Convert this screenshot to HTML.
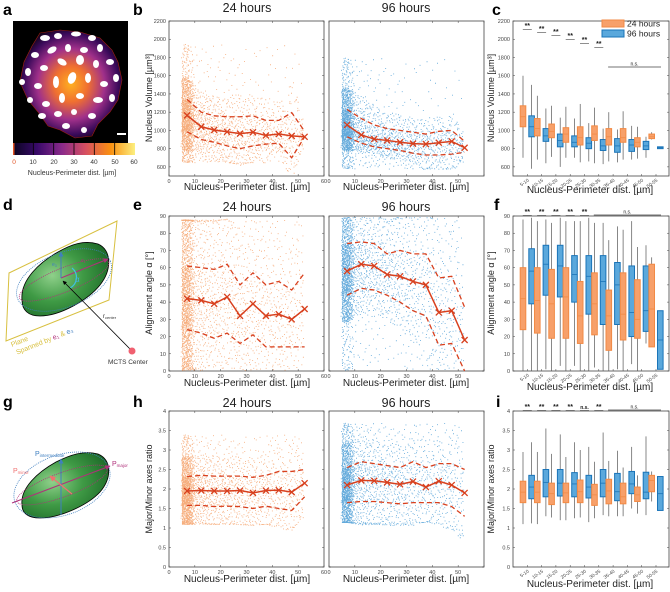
<!DOCTYPE html>
<html><head><meta charset="utf-8"><style>
html,body{margin:0;padding:0;background:#fff}
svg{display:block;font-family:"Liberation Sans",sans-serif}
</style></head><body>
<svg id="fig" width="670" height="592" viewBox="0 0 670 592" xmlns="http://www.w3.org/2000/svg">
<defs>
<radialGradient id="heat" cx="0.5" cy="0.5" r="0.55">
<stop offset="0" stop-color="#ffb020"/><stop offset="0.3" stop-color="#f07030"/><stop offset="0.6" stop-color="#a0308a"/><stop offset="0.85" stop-color="#3a0a5a"/><stop offset="1" stop-color="#120318"/>
</radialGradient>
<radialGradient id="green" cx="0.35" cy="0.45" r="0.7">
<stop offset="0" stop-color="#8fd08a"/><stop offset="0.5" stop-color="#3f9a45"/><stop offset="1" stop-color="#1d6a28"/>
</radialGradient>
<linearGradient id="cbar" x1="0" x2="1">
<stop offset="0" stop-color="#0a0520"/><stop offset="0.2" stop-color="#3a0a6a"/><stop offset="0.4" stop-color="#8a2a8a"/><stop offset="0.6" stop-color="#d85060"/><stop offset="0.8" stop-color="#fa9010"/><stop offset="1" stop-color="#fcf080"/>
</linearGradient>
<marker id="ahk" viewBox="0 0 10 10" refX="9" refY="5" markerWidth="5" markerHeight="5" orient="auto"><path d="M0,0L10,5L0,10z" fill="#000"/></marker>
<marker id="ahm" viewBox="0 0 10 10" refX="9" refY="5" markerWidth="5" markerHeight="5" orient="auto"><path d="M0,0L10,5L0,10z" fill="#b0307a"/></marker>
<marker id="ahb" viewBox="0 0 10 10" refX="9" refY="5" markerWidth="5" markerHeight="5" orient="auto"><path d="M0,0L10,5L0,10z" fill="#3f7fc0"/></marker>
<marker id="ahr" viewBox="0 0 10 10" refX="9" refY="5" markerWidth="5" markerHeight="5" orient="auto"><path d="M0,0L10,5L0,10z" fill="#f07070"/></marker>
</defs>

<g font-weight="bold" font-size="16" fill="#000">
<text x="3" y="15">a</text><text x="133" y="15">b</text><text x="492" y="15">c</text>
<text x="3" y="210">d</text><text x="133" y="210">e</text><text x="494" y="210">f</text>
<text x="3" y="407">g</text><text x="133" y="407">h</text><text x="496" y="407">i</text>
</g>

<g>
<rect x="13" y="21" width="115" height="122" fill="#000"/>
<path d="M40,33 L60,30 L80,32 L100,38 L112,50 L118,62 L122,80 L118,100 L110,112 L98,124 L92,136 L75,138 L60,130 L48,126 L38,112 L28,100 L20,82 L24,62 L32,46 Z" fill="url(#heat)" stroke="#a02010" stroke-width="0.6"/>
<g fill="#fff">
<ellipse cx="45" cy="38" rx="5" ry="3"/><ellipse cx="58" cy="36" rx="4" ry="3"/><ellipse cx="76" cy="34" rx="5" ry="2.5"/><ellipse cx="92" cy="38" rx="4" ry="3"/><ellipse cx="100" cy="48" rx="3" ry="4"/>
<ellipse cx="35" cy="55" rx="4" ry="3"/><ellipse cx="52" cy="50" rx="5" ry="3" transform="rotate(-30 52 50)"/><ellipse cx="68" cy="48" rx="3" ry="4"/><ellipse cx="84" cy="50" rx="4" ry="3"/><ellipse cx="110" cy="62" rx="4" ry="3"/>
<ellipse cx="28" cy="72" rx="3" ry="4"/><ellipse cx="44" cy="68" rx="4" ry="3"/><ellipse cx="62" cy="62" rx="5" ry="3" transform="rotate(30 62 62)"/><ellipse cx="80" cy="60" rx="4" ry="5"/><ellipse cx="96" cy="64" rx="3" ry="4"/><ellipse cx="116" cy="78" rx="3" ry="4"/>
<ellipse cx="22" cy="82" rx="3" ry="3"/><ellipse cx="38" cy="86" rx="4" ry="3"/><ellipse cx="56" cy="82" rx="3" ry="6"/><ellipse cx="72" cy="78" rx="4" ry="6" transform="rotate(20 72 78)"/><ellipse cx="88" cy="78" rx="3" ry="5"/><ellipse cx="104" cy="84" rx="4" ry="3"/>
<ellipse cx="30" cy="100" rx="3" ry="3"/><ellipse cx="46" cy="104" rx="4" ry="3"/><ellipse cx="62" cy="98" rx="3" ry="5"/><ellipse cx="80" cy="96" rx="4" ry="3"/><ellipse cx="98" cy="100" rx="5" ry="3"/><ellipse cx="112" cy="98" rx="3" ry="4"/>
<ellipse cx="42" cy="116" rx="4" ry="3"/><ellipse cx="58" cy="114" rx="4" ry="3"/><ellipse cx="74" cy="112" rx="3" ry="3"/><ellipse cx="92" cy="116" rx="4" ry="3"/><ellipse cx="66" cy="126" rx="4" ry="3"/><ellipse cx="84" cy="130" rx="3" ry="3"/>
<rect x="117" y="133" width="9" height="2"/>
</g>
</g>
<g>
<rect x="13" y="143" width="122" height="12" fill="url(#cbar)"/>
<g stroke="#000" stroke-width="0.8"><line x1="33.3" y1="143" x2="33.3" y2="155"/><line x1="53.7" y1="143" x2="53.7" y2="155"/><line x1="74" y1="143" x2="74" y2="155"/><line x1="94.3" y1="143" x2="94.3" y2="155"/><line x1="114.7" y1="143" x2="114.7" y2="155"/></g>
<rect x="13" y="143" width="1.5" height="12" fill="#e05020"/>
<g font-size="6.5" fill="#333" text-anchor="middle"><text x="14" y="164" fill="#e05020">0</text><text x="33" y="164">10</text><text x="54" y="164">20</text><text x="74" y="164">30</text><text x="94" y="164">40</text><text x="115" y="164">50</text><text x="134" y="164">60</text></g>
<text x="72" y="175" font-size="7" fill="#333" text-anchor="middle">Nucleus-Perimeter dist. [µm]</text>
</g>

<g>
<path d="M9,273 L117,221 L109,300 L6,341 Z" fill="none" stroke="#d8c040" stroke-width="1"/>
<path d="M22,300 C20,280 40,262 58,252 C72,244 84,240 98,244 C112,250 112,270 100,285 C88,300 60,316 40,316 C28,316 22,310 22,300 Z" fill="url(#green)" stroke="#000" stroke-width="0.8"/>
<ellipse cx="64" cy="280" rx="50" ry="27" transform="rotate(-22 64 280)" fill="none" stroke="#3f7fc0" stroke-width="0.8" stroke-dasharray="1,1"/>
<ellipse cx="64" cy="280" rx="48" ry="12" transform="rotate(-22 64 280)" fill="none" stroke="#b0307a" stroke-width="0.8" stroke-dasharray="1,1"/>
<line x1="61" y1="278" x2="108" y2="259" stroke="#b0307a" stroke-width="1" marker-end="url(#ahm)"/>
<line x1="61" y1="278" x2="61" y2="252" stroke="#3f7fc0" stroke-width="1" marker-end="url(#ahb)"/>
<path d="M72,268 A12,12 0 0 1 70,288" fill="none" stroke="#40c0e0" stroke-width="1.2"/>
<text x="75" y="282" font-size="8" fill="#40b0e0">α</text>
<line x1="131" y1="350" x2="63" y2="281" stroke="#000" stroke-width="0.8" marker-end="url(#ahk)"/>
<circle cx="132" cy="351" r="3.5" fill="#f06070"/>
<text x="103" y="318" font-size="6" fill="#333">r<tspan font-size="4" dy="1">center</tspan></text>
<text x="108" y="364" font-size="6.5" fill="#333">MCTS Center</text>
<text x="81" y="262" font-size="5" fill="#b0307a">e<tspan font-size="3.5" dy="1">1</tspan></text>
<text x="52" y="266" font-size="5" fill="#3f7fc0">e<tspan font-size="3.5" dy="1">3</tspan></text>
<g transform="rotate(-22 12 347)" font-size="7" fill="#d8c040"><text x="12" y="347">Plane</text><text x="14" y="356">Spanned by <tspan fill="#b0307a">e₁</tspan> &amp; <tspan fill="#3f7fc0">e₃</tspan></text></g>
</g>

<g>
<path d="M22,505 C20,488 38,472 56,462 C70,455 84,450 98,454 C112,460 112,478 100,492 C88,505 60,518 40,518 C28,518 22,513 22,505 Z" fill="url(#green)" stroke="#000" stroke-width="0.8"/>
<ellipse cx="62" cy="485" rx="50" ry="30" transform="rotate(-20 62 485)" fill="none" stroke="#3f7fc0" stroke-width="0.8" stroke-dasharray="1,1"/>
<ellipse cx="62" cy="485" rx="48" ry="12" transform="rotate(-20 62 485)" fill="none" stroke="#b0307a" stroke-width="0.8" stroke-dasharray="1,1"/>
<line x1="12" y1="503" x2="110" y2="466" stroke="#b0307a" stroke-width="1" marker-end="url(#ahm)"/>
<line x1="61" y1="515" x2="61" y2="459" stroke="#3f7fc0" stroke-width="1" marker-end="url(#ahb)"/>
<line x1="72" y1="494" x2="50" y2="476" stroke="#f07070" stroke-width="1.2" marker-end="url(#ahr)"/>
<text x="35" y="456" font-size="7" fill="#3f7fc0">P<tspan font-size="4.5" dy="1">intermediate</tspan></text>
<text x="112" y="466" font-size="7" fill="#b0307a">P<tspan font-size="4.5" dy="1">major</tspan></text>
<text x="13" y="473" font-size="7" fill="#f07070">P<tspan font-size="4.5" dy="1">minor</tspan></text>
</g>

<g id="charts"></g>
</svg>
<script>
// ---------- data ----------
const binX = [7,12.5,17.5,22.5,27.5,32.5,37.5,42.5,47.5,52.5];
const cats = ["5-10","10-15","15-20","20-25","25-30","30-35","35-40","40-45","45-50","50-55"];
const vol24Med = [1165,1040,1005,985,965,980,945,960,940,930];
const vol24Up  = [1340,1200,1160,1150,1150,1160,1110,1110,1195,990];
const vol24Lo  = [985,900,870,830,800,830,850,860,700,930];
const vol96Med = [1060,950,905,890,870,855,850,865,880,810];
const vol96Up  = [1230,1130,1060,1020,1000,980,960,990,1000,880];
const vol96Lo  = [930,860,820,800,780,750,730,730,740,760];
const ang24Med = [42,41,39,43,32,39,32,33,30,36];
const ang24Up  = [61,60,59,62,50,57,50,52,47,57];
const ang24Lo  = [24,22,19,22,16,21,14,14,14,14];
const ang96Med = [58,62,61,56,55,52,50,34,35,18];
const ang96Up  = [74,75,74,68,70,68,68,54,55,37];
const ang96Lo  = [44,48,47,44,40,35,32,15,16,0];
const rat24Med = [1.95,1.96,1.95,1.95,1.96,1.9,1.96,1.97,1.92,2.15];
const rat24Up  = [2.32,2.35,2.33,2.33,2.33,2.3,2.35,2.45,2.45,2.5];
const rat24Lo  = [1.58,1.58,1.55,1.56,1.55,1.5,1.56,1.5,1.45,1.8];
const rat96Med = [2.1,2.22,2.21,2.17,2.12,2.19,2.05,2.2,2.1,1.9];
const rat96Up  = [2.55,2.7,2.65,2.6,2.55,2.7,2.55,2.65,2.65,2.5];
const rat96Lo  = [1.65,1.68,1.68,1.65,1.62,1.65,1.65,1.65,1.55,1.3];
const boxVol24 = [[700,1040,1150,1270,1600],[680,940,1020,1130,1380],[710,920,990,1070,1270],[700,870,960,1030,1260],[650,840,920,1040,1290],[640,890,960,1050,1250],[660,840,930,1020,1200],[680,870,920,1020,1210],[690,820,870,920,1040],[900,910,930,960,980]];
const boxVol96 = [[580,930,1040,1160,1500],[640,880,940,1020,1240],[600,820,890,960,1140],[700,820,870,940,1130],[660,800,860,920,1080],[630,780,830,900,1020],[650,760,830,910,1010],[680,770,840,900,1050],[700,790,830,880,930],[800,800,810,820,820]];
const boxAng24 = [[0,24,42,60,88],[0,22,41,60,87],[0,19,39,59,86],[0,19,43,60,87],[0,16,32,52,87],[2,21,39,57,86],[0,12,32,47,76],[0,18,33,57,82],[0,19,30,53,72],[14,14,36,62,66]];
const boxAng96 = [[0,39,58,71,89],[1,44,62,73,88],[3,43,61,73,89],[3,40,56,67,87],[0,33,55,67,89],[0,27,52,67,86],[1,27,50,63,84],[4,20,34,61,87],[16,23,35,61,73],[1,1,18,35,35]];
const boxRat24 = [[1.1,1.65,1.92,2.2,2.95],[1.1,1.65,1.92,2.2,2.95],[1.27,1.6,1.88,2.15,2.9],[1.2,1.65,1.9,2.15,2.82],[1.27,1.65,1.93,2.23,3.0],[1.25,1.58,1.85,2.12,2.7],[1.3,1.62,1.95,2.25,2.72],[1.3,1.62,1.8,2.15,2.55],[1.37,1.68,1.85,2.05,2.35],[1.68,1.93,2.22,2.35,2.45]];
const boxRat96 = [[1.12,1.75,2.05,2.35,3.2],[1.3,1.8,2.17,2.5,3.55],[1.2,1.82,2.15,2.5,3.4],[1.25,1.8,2.13,2.42,3.2],[1.15,1.77,2.05,2.35,3.08],[1.33,1.8,2.15,2.5,3.45],[1.3,1.7,1.93,2.4,2.98],[1.5,1.88,2.13,2.45,3.08],[1.33,1.75,1.92,2.43,3.35],[1.45,1.45,1.88,2.32,2.32]];
const sigVol = ["**","**","**","**","**","**"];
const sigAng = ["**","**","**","**","**"];
const sigRat = ["**","**","**","**","n.s.","**"];
const xTicks = [0,10,20,30,40,50,60];
const volTicks = [600,800,1000,1200,1400,1600,1800,2000,2200];
const angTicks = [0,10,20,30,40,50,60,70,80,90];
const ratTicks = [0,0.5,1,1.5,2,2.5,3,3.5,4];

// ---------- helpers ----------
const NS = "http://www.w3.org/2000/svg";
const root = document.getElementById("charts");
function mk(tag, attrs, parent){const e=document.createElementNS(NS,tag);for(const k in attrs)e.setAttribute(k,attrs[k]);(parent||root).appendChild(e);return e;}
function scale(d0,d1,r0,r1){return v=>r0+(v-d0)/(d1-d0)*(r1-r0);}
function interp(xs,ys,x){if(x<=xs[0])return ys[0];for(let i=1;i<xs.length;i++){if(x<=xs[i]){const t=(x-xs[i-1])/(xs[i]-xs[i-1]);return ys[i-1]+t*(ys[i]-ys[i-1]);}}return ys[ys.length-1];}
function halton(i,b){let f=1,r=0;while(i>0){f/=b;r+=f*(i%b);i=Math.floor(i/b);}return r;}
const ORANGE="#f28a45", BLUE="#2186cc", RED="#d8401e";

function axes(name,x0,y0,x1,y1,ydom,yt,xs,xt,showXLabels){
  const g=mk("g",{});
  
  
  const sy=scale(ydom[0],ydom[1],y1,y0);
  mk("rect",{x:x0,y:y0,width:x1-x0,height:y1-y0,fill:"#fff",stroke:"#444","stroke-width":0.8},g);
  yt.forEach(v=>{const y=sy(v);mk("line",{x1:x0,y1:y,x2:x0+2,y2:y,stroke:"#444","stroke-width":0.5},g);mk("line",{x1:x1,y1:y,x2:x1-2,y2:y,stroke:"#444","stroke-width":0.5},g);
    const t=mk("text",{x:x0-3,y:y+2,"font-size":5.5,"text-anchor":"end",fill:"#444"},g);t.textContent=v;});
  if(xs){xt.forEach(v=>{const x=xs(v);if(x>x1+0.5)return;mk("line",{x1:x,y1:y1,x2:x,y2:y1-2,stroke:"#444","stroke-width":0.5},g);mk("line",{x1:x,y1:y0,x2:x,y2:y0+2,stroke:"#444","stroke-width":0.5},g);
    if(showXLabels&&x<x1-3||showXLabels==="all"){const t=mk("text",{x:x,y:y1+7,"font-size":5.5,"text-anchor":"middle",fill:"#444"},g);t.textContent=v;}});}
  return {g,sy};
}
function label(txt,x,y,size,rot,name){
  const t=mk("text",{x:x,y:y,"font-size":size,"text-anchor":"middle",fill:"#222"});
  if(rot)t.setAttribute("transform",`rotate(${rot} ${x} ${y})`);
  
  
  t.textContent=txt;return t;
}

function scatterPanel(name,x0,y0,x1,y1,ydom,yt,med,up,lo,color,ext,n,labels){
  const xs=scale(0,60,x0,x1);
  const A=axes(name,x0,y0,x1,y1,ydom,yt,xs,xTicks,labels);
  const sy=A.sy;
  let d="";
  for(let i=1;i<=n;i++){
    const u1=halton(i,2),u2=halton(i,3),u3=halton(i,5),u4=halton(i,7);
    let x;
    if(u3<0.33){ x = 4.3 + 5.5*((u1+u4)/2); }
    else { x = 5 + 47*Math.pow(u1,1.9); }
    const m=interp(binX,med,x),U=interp(binX,up,x),L=interp(binX,lo,x);
    const qx=[0,0.06,0.25,0.5,0.75,0.94,1];
    const qy=[ext[0],L-(m-L)*1.1,L,m,U,U+(U-m)*1.4,ext[1]];
    let y=qy[0];
    for(let k=1;k<qx.length;k++){if(u2<=qx[k]){y=qy[k-1]+(u2-qx[k-1])/(qx[k]-qx[k-1])*(qy[k]-qy[k-1]);break;}}
    y=Math.max(ydom[0],Math.min(ydom[1],y));
    const px=xs(x),py=sy(y);
    if(px>x1-1||py<y0+1||py>y1-1)continue;
    d+=`M${px.toFixed(1)} ${py.toFixed(1)}h0.9v0.9h-0.9z`;
  }
  const p=mk("path",{d:d,fill:color,opacity:0.7});
  
  
  [up,lo].forEach((arr,j)=>{
    const l=mk("polyline",{points:binX.map((x,i)=>xs(x)+","+sy(arr[i])).join(" "),fill:"none",stroke:RED,"stroke-width":1.3,"stroke-dasharray":"5,3"});
    
    
  });
  const ml=mk("polyline",{points:binX.map((x,i)=>xs(x)+","+sy(med[i])).join(" "),fill:"none",stroke:RED,"stroke-width":1.5});
  
  
  binX.forEach((x,i)=>{
    const cx=xs(x),cy=sy(med[i]);
    const mkr=mk("path",{d:`M${cx-3} ${cy-3}L${cx+3} ${cy+3}M${cx-3} ${cy+3}L${cx+3} ${cy-3}`,stroke:RED,"stroke-width":1.3});
    
    
  });
}

function boxPanel(name,x0,y0,x1,y1,ydom,yt,b24,b96,sig,sigY,nsStart,nsY,nsCat){
  const A=axes(name,x0,y0,x1,y1,ydom,yt,null,null,false);
  const sy=A.sy;
  const cx=i=>x0+14.3+14.3*i;
  cats.forEach((c,i)=>{
    const x=cx(i);
    mk("line",{x1:x,y1:y1,x2:x,y2:y1-2,stroke:"#444","stroke-width":0.5});
    const t=mk("text",{x:x+2,y:y1+5,"font-size":4.8,"text-anchor":"end",fill:"#444",transform:`rotate(-35 ${x+2} ${y1+5})`});
    
    
    t.textContent=c;
    [[b24[i],-4.3,"#f7a06a",ORANGE],[b96[i],4.3,"#5aa8dc","#1a74b8"]].forEach(([b,off,fill,edge])=>{
      const bx=x+off,w=5.6;
      const wl=mk("line",{x1:bx,y1:sy(b[0]),x2:bx,y2:sy(b[4]),stroke:"#555","stroke-width":0.7});
      
      
      const r=mk("rect",{x:bx-w/2,y:sy(b[3]),width:w,height:Math.max(0.8,sy(b[1])-sy(b[3])),fill:fill,stroke:edge,"stroke-width":1});
      
      
      const m=mk("line",{x1:bx-w/2,y1:sy(b[2]),x2:bx+w/2,y2:sy(b[2]),stroke:edge,"stroke-width":0.8});
      
      
    });
  });
  sig.forEach((s,i)=>{
    const x=cx(i),y=sigY[i];
    const t=mk("text",{x:x,y:y,"font-size":s==="**"?7:5,"text-anchor":"middle",fill:"#222","font-weight":"bold"});
    
    
    t.textContent=s;
    mk("line",{x1:x-4.5,y1:y+1.5,x2:x+4.5,y2:y+1.5,stroke:"#444","stroke-width":0.6});
  });
  const xa=cx(nsStart)-5,xb=cx(nsCat)+5;
  mk("line",{x1:xa,y1:nsY,x2:xb,y2:nsY,stroke:"#444","stroke-width":0.7});
  const t=mk("text",{x:(xa+xb)/2,y:nsY-1.5,"font-size":5,"text-anchor":"middle",fill:"#222"});
  
  
  t.textContent="n.s.";
}

scatterPanel("volume-24h",169,21,324,176,[500,2200],volTicks,vol24Med,vol24Up,vol24Lo,ORANGE,[650,1950],2400,"all");
scatterPanel("volume-96h",329,21,484,176,[500,2200],volTicks.map(()=>""),vol96Med,vol96Up,vol96Lo,BLUE,[580,1800],2400,true);
boxPanel("volume-box",513,21,669,176,[500,2200],volTicks,boxVol24,boxVol96,sigVol,[28,31,34,38,42,46],6,67,9);
scatterPanel("angle-24h",169,216,324,371,[0,90],angTicks,ang24Med,ang24Up,ang24Lo,ORANGE,[0,88],2600,"all");
scatterPanel("angle-96h",329,216,484,371,[0,90],angTicks.map(()=>""),ang96Med,ang96Up,ang96Lo,BLUE,[0,89],2600,true);
boxPanel("angle-box",513,216,669,371,[0,90],angTicks,boxAng24,boxAng96,sigAng,[214,214,214,214,214],5,215,9);
scatterPanel("ratio-24h",169,411,324,567,[0,4],ratTicks,rat24Med,rat24Up,rat24Lo,ORANGE,[1.1,3.4],2400,"all");
scatterPanel("ratio-96h",329,411,484,567,[0,4],ratTicks.map(()=>""),rat96Med,rat96Up,rat96Lo,BLUE,[1.15,3.7],2400,true);
boxPanel("ratio-box",513,411,669,567,[0,4],ratTicks,boxRat24,boxRat96,sigRat,[409,409,409,409,409,409],6,410,9);

[[12],[211],[407]].forEach(([y])=>{label("24 hours",247,y,12.5,0,"title-24h");label("96 hours",406,y,12.5,0,"title-96h");});
[[190],[386],[582]].forEach(([y])=>{label("Nucleus-Perimeter dist. [µm]",247,y,10,0,"x-axis-title");label("Nucleus-Perimeter dist. [µm]",406,y,10,0,"x-axis-title");});
label("Nucleus-Perimeter dist. [µm]",590,193,10,0,"x-axis-title");
label("Nucleus-Perimeter dist. [µm]",590,390,10,0,"x-axis-title");
label("Nucleus-Perimeter dist. [µm]",590,587,10,0,"x-axis-title");
label("Nucleus Volume [µm³]",152,98,9,-90,"y-axis-title");
label("Nucleus Volume [µm³]",494,98,9,-90,"y-axis-title");
label("Alignment angle α [°]",152,293,9,-90,"y-axis-title");
label("Alignment angle α [°]",494,293,9,-90,"y-axis-title");
label("Major/Minor axes ratio",152,489,9,-90,"y-axis-title");
label("Major/Minor axes ratio",494,489,9,-90,"y-axis-title");

const lg=mk("g",{});


mk("rect",{x:602,y:20,width:22,height:7,fill:"#f7a06a",stroke:ORANGE,"stroke-width":1},lg);
mk("rect",{x:602,y:30,width:22,height:7,fill:"#5aa8dc",stroke:"#1a74b8","stroke-width":1},lg);
const l1=mk("text",{x:627,y:26.5,"font-size":8.5,fill:"#222"},lg);l1.textContent="24 hours";
const l2=mk("text",{x:627,y:36.5,"font-size":8.5,fill:"#222"},lg);l2.textContent="96 hours";
</script>
</body></html>
